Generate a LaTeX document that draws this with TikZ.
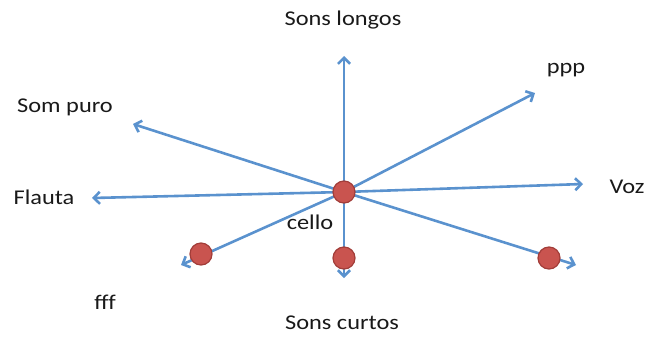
\documentclass[tikz,border=0pt]{standalone}
\usepackage{fontspec}
\setmainfont[FakeStretch=1.16]{Carlito}
\usetikzlibrary{arrows.meta}
\definecolor{arrowblue}{HTML}{5A92CE}
\definecolor{dotred}{HTML}{C9544F}
\definecolor{dotedge}{HTML}{A23D39}
\tikzset{
  ray/.style={draw=arrowblue, line width=2.6pt, -{Straight Barb[length=6pt,width=12pt]}},
  dot/.style={circle, fill=dotred, draw=dotedge, line width=1.2pt, minimum size=22pt, inner sep=0pt},
  lbl/.style={font=\fontsize{21}{23}\selectfont, text=black!90, inner sep=0pt}
}
\begin{document}
\begin{tikzpicture}[x=1pt,y=-1pt]
\useasboundingbox (0,0) rectangle (647,338);
\coordinate (c) at (344,192);
\coordinate (eUp) at (344,56);
\coordinate (ePpp) at (535,93);
\coordinate (eSom) at (133,124);
\coordinate (eFla) at (92,198);
\coordinate (eVoz) at (583,184);
\coordinate (eLL) at (181,265);
\coordinate (eDn) at (344,278);
\coordinate (eLR) at (576,265);
\foreach \e in {eUp,ePpp,eSom,eFla,eVoz,eLL,eDn,eLR} \draw[ray] (c) -- (\e);
\node[dot] (dc) at (c) {};
\node[dot] (d1) at (201,254) {};
\node[dot] (d2) at (344,258) {};
\node[dot] (d3) at (549,258) {};
\node[lbl] (tUp) at (343,20) {Sons longos};
\node[lbl] (tPpp) at (566,70) {ppp};
\node[lbl] (tSom) at (65,107) {Som puro};
\node[lbl] (tFla) at (44,197) {Flauta};
\node[lbl] (tVoz) at (627,187) {Voz};
\node[lbl] (tCel) at (310,222) {cello};
\node[lbl] (tFff) at (105,302) {fff};
\node[lbl] (tDn) at (342,323) {Sons curtos};
\end{tikzpicture}
\end{document}
